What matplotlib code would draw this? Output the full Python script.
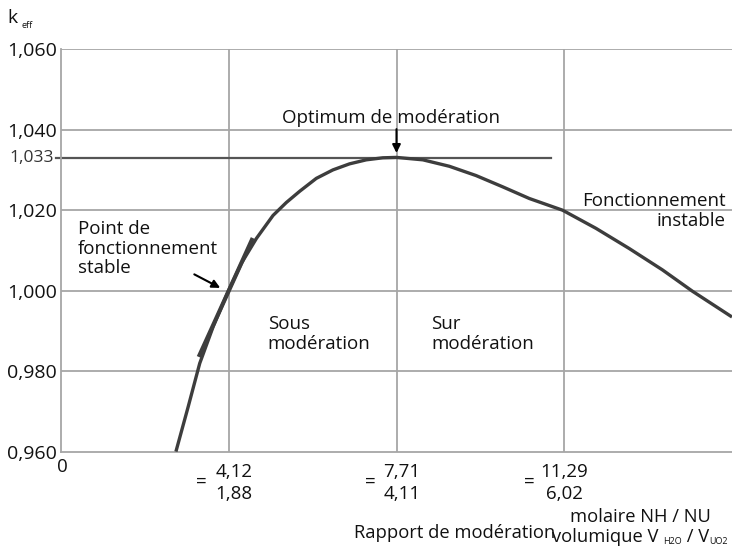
import matplotlib
matplotlib.use("Agg")
import matplotlib.pyplot as plt

plt.rcParams['font.family'] = ['Open Sans', 'DejaVu Sans']

# Data
x_curve = [0.685, 0.758, 0.827, 0.907, 0.996, 1.075, 1.165, 1.264, 1.343, 1.423, 1.522,
           1.621, 1.720, 1.820, 1.918, 2.0, 2.157, 2.315, 2.474, 2.633, 2.792, 2.990,
           3.189, 3.387, 3.585, 3.764, 4.0]
k_curve = [0.9601, 0.9712, 0.9820, 0.9911, 0.9998, 1.0068, 1.0130, 1.0187, 1.0219, 1.0247, 1.0279,
           1.0300, 1.0315, 1.0325, 1.0330, 1.0331, 1.0325, 1.0309, 1.0286, 1.0258, 1.0229, 1.0200,
           1.0155, 1.0105, 1.0052, 0.9999, 0.9935]
tangent_x = [0.821, 1.143]
tangent_k = [0.9836, 1.0131]
k_opt = 1.033
y_ticks = [0.960, 0.980, 1.000, 1.020, 1.040, 1.060]
y_labels = ["0,960", "0,980", "1,000", "1,020", "1,040", "1,060"]
x_grid = [1, 2, 3]
x_top = ["4,12", "7,71", "11,29"]
x_bot = ["1,88", "4,11", "6,02"]

GRID = "#a6a6a6"
DARK = "#3d3d3d"
TXT = "#111111"
fs = 13.5

fig = plt.figure(figsize=(7.32, 5.52), dpi=100)
ax = fig.add_axes([61/732, 1 - 452/552, 1 - 61/732, (452 - 49)/552])
ax.set_xlim(0, 4)
ax.set_ylim(0.960, 1.060)
for s in ["top", "right"]:
    ax.spines[s].set_visible(False)
for s in ["left", "bottom"]:
    ax.spines[s].set_color(GRID)
    ax.spines[s].set_linewidth(1.3)

for y in y_ticks[1:]:
    ax.axhline(y, color=GRID, lw=1.3, zorder=1)
for x in x_grid:
    ax.axvline(x, color=GRID, lw=1.3, zorder=1)

ax.set_yticks(y_ticks)
ax.set_yticklabels(y_labels, fontsize=14, color=TXT)
ax.tick_params(axis="y", length=0, pad=3)
ax.set_xticks([])

# 1,033 line
ax.plot([-0.03, 2.92], [k_opt, k_opt], color="#555555", lw=1.6, zorder=2, clip_on=False)
ax.text(-0.045, k_opt, "1,033", ha="right", va="center", fontsize=12.5, color="#333333")

ax.plot(x_curve, k_curve, color=DARK, lw=2.4, zorder=3, solid_capstyle="butt",
        solid_joinstyle="round")
ax.plot(tangent_x, tangent_k, color=DARK, lw=3.0, zorder=3, solid_capstyle="butt")

# arrows
ax.annotate("", xy=(0.964, 1.0004), xytext=(0.78, 1.0044),
            arrowprops=dict(arrowstyle="-|>", color="black", lw=1.5, mutation_scale=12))
ax.annotate("", xy=(2.0, 1.0335), xytext=(2.0, 1.0408),
            arrowprops=dict(arrowstyle="-|>", color="black", lw=1.5, mutation_scale=12))

ax.text(0.1, 1.0104, "Point de\nfonctionnement\nstable", fontsize=fs, ha="left", va="center",
        linespacing=1.1, color=TXT)
ax.text(1.232, 0.9893, "Sous\nmodération", fontsize=fs, ha="left", va="center",
        linespacing=1.1, color=TXT)
ax.text(2.208, 0.9893, "Sur\nmodération", fontsize=fs, ha="left", va="center",
        linespacing=1.1, color=TXT)
ax.text(1.97, 1.0429, "Optimum de modération", fontsize=fs, ha="center", va="center", color=TXT)
ax.text(3.964, 1.0198, "Fonctionnement\ninstable", fontsize=fs, ha="right", va="center",
        linespacing=1.1, color=TXT)

# x labels (figure pixel coords)
def fx(px):
    return px / 732
def fy(py):
    return 1 - py / 552

fig.text(fx(62), fy(467), "0", fontsize=fs, ha="center", va="center", color=TXT)
eq_x = [201, 370, 529]
num_x = [234, 402, 564]
for i in range(3):
    fig.text(fx(eq_x[i]), fy(482), "=", fontsize=fs, ha="center", va="center", color=TXT)
    fig.text(fx(num_x[i]), fy(472), x_top[i], fontsize=fs, ha="center", va="center", color=TXT)
    fig.text(fx(num_x[i]), fy(494), x_bot[i], fontsize=fs, ha="center", va="center", color=TXT)

fig.text(fx(354), fy(538), "Rapport de modération", fontsize=13.2, ha="left", va="baseline",
         color=TXT)
fig.text(fx(640), fy(522), "molaire NH / NU", fontsize=13.2, ha="center", va="baseline",
         color=TXT)

# "volumique V H2O / V UO2" built from pieces with small subscripts
renderer = fig.canvas.get_renderer()
pieces = [("volumique V ", 13.2, 0), ("H2O", 6.5, -2), (" / V", 13.2, 0), ("UO2", 6.5, -2)]
xpos = 552.0
base = 542.0
for txt, size, dy in pieces:
    t = fig.text(fx(xpos), fy(base - dy), txt, fontsize=size, ha="left", va="baseline", color=TXT)
    bb = t.get_window_extent(renderer=renderer)
    xpos += bb.width

fig.text(fx(7), fy(18), "k", fontsize=14, ha="left", va="center", color=TXT)
fig.text(fx(22), fy(25), "eff", fontsize=6.5, ha="left", va="center", color=TXT)

fig.savefig("out.png", dpi=100)
